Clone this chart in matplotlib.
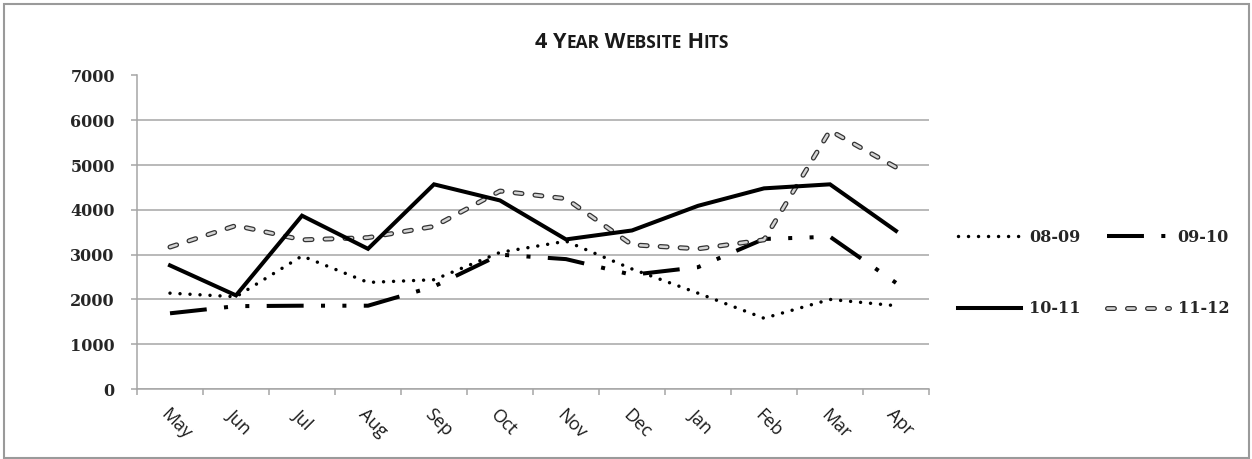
import matplotlib
matplotlib.use('Agg')
import matplotlib.pyplot as plt
import matplotlib.patheffects as pe
from matplotlib.patches import Rectangle

months = ['May', 'Jun', 'Jul', 'Aug', 'Sep', 'Oct', 'Nov', 'Dec', 'Jan', 'Feb', 'Mar', 'Apr']
hits_0809 = [2140, 2060, 2970, 2380, 2440, 3050, 3300, 2680, 2140, 1580, 2000, 1860]
hits_0910 = [1690, 1850, 1860, 1860, 2290, 3000, 2900, 2550, 2720, 3350, 3400, 2370]
hits_1011 = [2760, 2090, 3870, 3130, 4570, 4210, 3340, 3540, 4090, 4480, 4570, 3530]
hits_1112 = [3170, 3650, 3330, 3380, 3630, 4420, 4250, 3220, 3130, 3330, 5770, 4950]
y_ticks = [0, 1000, 2000, 3000, 4000, 5000, 6000, 7000]

plt.rcParams['lines.scale_dashes'] = False
W, H = 1252, 459
fig = plt.figure(figsize=(W / 100, H / 100), dpi=100)
ax = fig.add_axes([137 / W, 1 - 389 / H, (929 - 137) / W, (389 - 75.5) / H])

x = list(range(len(months)))
grid_c = '#a6a6a6'

l1, = ax.plot(x, hits_0809, color='black', lw=2.5, dashes=(0.01, 7.2),
              dash_capstyle='round', label='08-09', zorder=3)
l2, = ax.plot(x, hits_0910, color='black', lw=2.9, dashes=(26.6, 12.5, 2.9, 12.5, 2.9, 12.5),
              dash_capstyle='butt', label='09-10', zorder=3)
l3, = ax.plot(x, hits_1011, color='black', lw=2.9, solid_joinstyle='miter', label='10-11', zorder=4)
l4, = ax.plot(x, hits_1112, color='#d4d4d4', lw=1.8, dashes=(5, 9.4), dash_capstyle='round',
              label='11-12', zorder=3,
              path_effects=[pe.Stroke(linewidth=3.6, foreground='#333333'), pe.Normal()])

ax.set_xlim(-0.5, len(months) - 0.5)
ax.set_ylim(0, 7000)
ax.set_yticks(y_ticks)
ax.set_yticklabels([str(v) for v in y_ticks], fontfamily='DejaVu Serif', fontweight='bold',
                   fontsize=11.5, color='#262626')
ax.yaxis.grid(True, color=grid_c, lw=1.1)
ax.set_axisbelow(True)

# boundaries between months get the tick marks, labels sit in the middle
ax.set_xticks([i - 0.5 for i in range(len(months) + 1)])
ax.set_xticklabels([])
ax.set_xticks(x, minor=True)
ax.set_xticklabels(months, minor=True, rotation=-45, ha='left', va='top', rotation_mode='anchor',
                   fontfamily='Open Sans', fontsize=13, color='#1a1a1a')
ax.tick_params(axis='x', which='minor', length=0, pad=12)
ax.tick_params(axis='x', which='major', length=4, color=grid_c, width=1.1)
ax.tick_params(axis='y', length=4, color=grid_c, width=1.1, pad=12)

for s in ['top', 'right']:
    ax.spines[s].set_visible(False)
for s in ['left', 'bottom']:
    ax.spines[s].set_color(grid_c)
    ax.spines[s].set_linewidth(1.1)

leg = fig.legend([l1, l3, l2, l4], ['08-09', '10-11', '09-10', '11-12'], ncol=2,
                 loc='center left', bbox_to_anchor=(944 / W, 1 - 273 / H), frameon=False,
                 handlelength=3.9, handletextpad=0.55, columnspacing=1.6, labelspacing=3.4,
                 prop={'family': 'DejaVu Serif', 'weight': 'bold', 'size': 11.5})
for t in leg.get_texts():
    t.set_color('#262626')

# small caps title built from pieces
fig.canvas.draw()
r = fig.canvas.get_renderer()
pieces = [('4 Y', 15.5), ('EAR', 12.5), (' W', 15.5), ('EBSITE', 12.5), (' H', 15.5), ('ITS', 12.5)]
texts = []
for s, fs in pieces:
    texts.append(fig.text(0, 1 - 48 / H, s, fontsize=fs, fontweight='bold', fontfamily='Open Sans',
                          color='#1a1a1a', va='baseline', ha='left'))
widths = [t.get_window_extent(r).width for t in texts]
xpos = 632 - sum(widths) / 2
for t, w in zip(texts, widths):
    t.set_x(xpos / W)
    xpos += w

fig.patches.append(Rectangle((4 / W, 1 / H), (1249 - 4) / W, (455 - 1) / H, transform=fig.transFigure,
                             fill=False, edgecolor='#9a9a9a', lw=1.5))

fig.savefig('out.png', dpi=100)
